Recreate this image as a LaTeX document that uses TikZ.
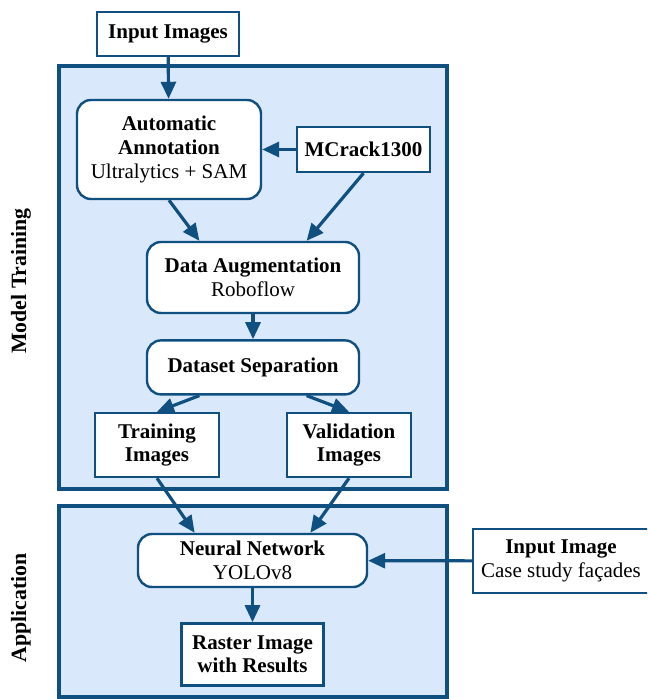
\documentclass[tikz,border=0pt]{standalone}
\usepackage{fontspec}
\setmainfont{Liberation Serif}
\usepackage{xcolor}
\usepackage{tikz}
\usetikzlibrary{positioning,arrows.meta,calc}

\definecolor{frameblue}{RGB}{16,80,128}
\definecolor{panelblue}{RGB}{218,232,252}

\begin{document}
\begin{tikzpicture}[
  x=0.5pt, y=-0.5pt,
  font=\fontsize{10.5}{11.8}\selectfont,
  box/.style={draw=frameblue, line width=1.2pt, fill=white, align=center, inner sep=0pt},
  rbox/.style={box, rounded corners=7pt},
  panel/.style={draw=frameblue, line width=1.6pt, fill=panelblue},
  side/.style={rotate=90, font=\fontsize{10.9}{12}\selectfont\bfseries},
  arr/.style={-{Triangle[length=8.5pt,width=7.5pt]}, draw=frameblue, line width=1.6pt}
]
\useasboundingbox (0,0) rectangle (647,699);
\clip (0,0) rectangle (647,699);
% stage panels
\draw[panel] (59,66) rectangle (447,489);
\draw[panel] (59,506) rectangle (447,697);
\node[side] (lbltrain) at (21,281) {Model Training};
\node[side] (lblapp) at (21,608) {Application};
% training stage
\node[box, minimum width=71pt, minimum height=22pt] (inimgs) at (168,34) {\textbf{Input Images}};
\node[rbox, minimum width=92pt, minimum height=49.5pt] (annot) at (169,149.5) {\textbf{Automatic}\\\textbf{Annotation}\\Ultralytics + SAM};
\node[box, minimum width=66.5pt, minimum height=22.5pt] (mcrack) at (363.5,149.5) {\textbf{MCrack1300}};
\node[rbox, minimum width=106pt, minimum height=35.5pt] (aug) at (253,277.5) {\textbf{Data Augmentation}\\Roboflow};
\node[rbox, minimum width=106pt, minimum height=27pt, below=12.5pt of aug] (sep) {\textbf{Dataset Separation}};
\node[box, minimum width=62pt, minimum height=32pt] (train) at (157,445) {\textbf{Training}\\\textbf{Images}};
\node[box, minimum width=62pt, minimum height=32pt] (valid) at (349,445) {\textbf{Validation}\\\textbf{Images}};
% application stage
\node[rbox, minimum width=114.5pt, minimum height=26.5pt] (net) at (252.5,560.5) {\textbf{Neural Network}\\YOLOv8};
\node[box, minimum width=71pt, minimum height=31pt, below=17pt of net] (raster) {\textbf{Raster Image}\\\textbf{with Results}};
\node[box, minimum width=88pt, minimum height=32pt] (inimg) at (561,561) {\textbf{Input Image}\\Case study façades};
% connectors
\draw[arr] (inimgs) -- (annot);
\draw[arr] (mcrack) -- (annot);
\draw[arr] (annot.south) -- ($(aug.north west)!0.25!(aug.north east)$);
\draw[arr] (mcrack.south) -- ($(aug.north west)!0.75!(aug.north east)$);
\draw[arr] (aug) -- (sep);
\draw[arr] ($(sep.south west)!0.25!(sep.south east)$) -- (train.north);
\draw[arr] ($(sep.south west)!0.75!(sep.south east)$) -- (valid.north);
\draw[arr] (train.south) -- ($(net.north west)!0.25!(net.north east)$);
\draw[arr] (valid.south) -- ($(net.north west)!0.75!(net.north east)$);
\draw[arr] (net) -- (raster);
\draw[arr] (inimg) -- (net);
\end{tikzpicture}
\end{document}
